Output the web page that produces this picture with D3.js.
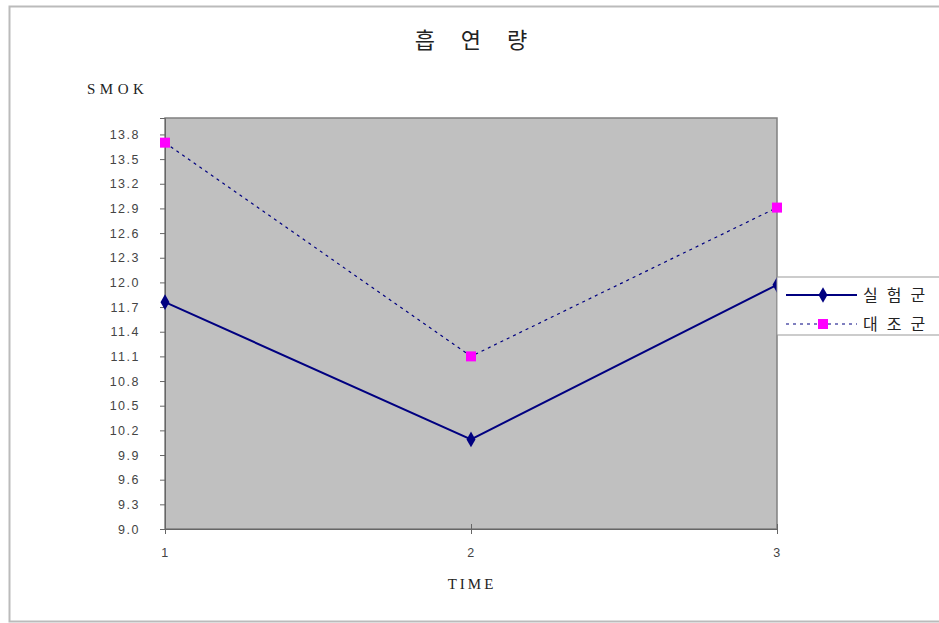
<!DOCTYPE html>
<html lang="ko">
<head>
  <meta charset="UTF-8">
  <title>흡연량</title>
  <style>
    body { margin: 0; background: #fff; }
    text { font-family: "Liberation Serif", serif; }
    .tick text { fill: #444; font-family: "Liberation Sans", Arial, sans-serif; font-size: 12.5px; letter-spacing: 1.5px; }
    .kr { font-family: "Noto Sans CJK KR", sans-serif; }
  </style>
</head>
<body>
  <script src="https://d3js.org/d3.v7.min.js"></script>
  <script>
    // 데이터
    const times = [1, 2, 3];
    const exp = [11.76, 10.09, 11.97];   // 실험군
    const ctrl = [13.70, 11.10, 12.91];  // 대조군
    const yTicks = [9.0, 9.3, 9.6, 9.9, 10.2, 10.5, 10.8, 11.1, 11.4, 11.7, 12.0, 12.3, 12.6, 12.9, 13.2, 13.5, 13.8];
    const seriesNames = ["실험군", "대조군"];

    const W = 939, H = 623;
    const pLeft = 165, pRight = 777, pTop = 118, pBottom = 529;

    const svg = d3.select("body").append("svg")
      .attr("width", W).attr("height", H);

    // 바깥 테두리
    svg.append("rect")
      .attr("x", 9.5).attr("y", 6.5).attr("width", 940).attr("height", 615)
      .attr("fill", "none").attr("stroke", "#bbb").attr("stroke-width", 2);

    const x = d3.scaleLinear().domain([1, 3]).range([pLeft, pRight]);
    const y = d3.scaleLinear().domain([9, 14]).range([pBottom, pTop]);

    // 플롯 영역
    svg.append("rect")
      .attr("x", pLeft).attr("y", pTop)
      .attr("width", pRight - pLeft).attr("height", pBottom - pTop)
      .attr("fill", "#c0c0c0").attr("stroke", "#808080").attr("stroke-width", 1.5);

    // 축
    const yAxis = svg.append("g")
      .attr("transform", `translate(${pLeft},0)`)
      .call(d3.axisLeft(y).tickValues(yTicks).tickFormat(d3.format(".1f")).tickSize(5).tickPadding(20));
    yAxis.select(".domain").attr("stroke", "#666");
    yAxis.selectAll(".tick line").attr("stroke", "#666");

    const xAxis = svg.append("g")
      .attr("transform", `translate(0,${pBottom})`)
      .call(d3.axisBottom(x).tickValues(times).tickFormat(d3.format("d")).tickSize(5).tickPadding(14));
    xAxis.select(".domain").attr("stroke", "#666");
    xAxis.selectAll(".tick line").attr("stroke", "#666").attr("y1", -5);

    // 제목 및 축 제목
    svg.append("text").attr("class", "kr")
      .attr("x", 484).attr("y", 48).attr("text-anchor", "middle")
      .attr("font-size", 22).attr("fill", "#222")
      .attr("letter-spacing", 26).text("흡연량");
    svg.append("text")
      .attr("x", 87).attr("y", 94)
      .attr("font-size", 15).attr("fill", "#222").attr("letter-spacing", 4.5)
      .text("SMOK");
    svg.append("text")
      .attr("x", 472).attr("y", 589).attr("text-anchor", "middle")
      .attr("font-size", 15).attr("fill", "#222").attr("letter-spacing", 3)
      .text("TIME");

    const line = d3.line().x((d, i) => x(times[i])).y(d => y(d));

    // 대조군 (점선)
    svg.append("path").datum(ctrl)
      .attr("d", line).attr("fill", "none")
      .attr("stroke", "#000080").attr("stroke-width", 1.2)
      .attr("stroke-dasharray", "3,4");
    // 실험군 (실선)
    svg.append("path").datum(exp)
      .attr("d", line).attr("fill", "none")
      .attr("stroke", "#000080").attr("stroke-width", 2);

    const diamond = d3.symbol().type(d3.symbolDiamond).size(70);
    svg.selectAll(".m1").data(exp).enter().append("path")
      .attr("transform", (d, i) => `translate(${x(times[i])},${y(d)})`)
      .attr("d", diamond).attr("fill", "#000080");
    svg.selectAll(".m2").data(ctrl).enter().append("rect")
      .attr("x", (d, i) => x(times[i]) - 5).attr("y", d => y(d) - 5)
      .attr("width", 10).attr("height", 10).attr("fill", "#ff00ff");

    // 범례
    const lg = svg.append("g").attr("transform", "translate(777,277)");
    lg.append("rect").attr("x", 0).attr("y", 0).attr("width", 170).attr("height", 58)
      .attr("fill", "#fff").attr("stroke", "#999");
    lg.append("line").attr("x1", 9).attr("x2", 80).attr("y1", 18).attr("y2", 18)
      .attr("stroke", "#000080").attr("stroke-width", 2);
    lg.append("path").attr("transform", "translate(46,18)").attr("d", diamond).attr("fill", "#000080");
    lg.append("line").attr("x1", 9).attr("x2", 80).attr("y1", 47).attr("y2", 47)
      .attr("stroke", "#000080").attr("stroke-width", 1.2).attr("stroke-dasharray", "3,4");
    lg.append("rect").attr("x", 41).attr("y", 42).attr("width", 10).attr("height", 10).attr("fill", "#ff00ff");
    lg.selectAll(".lt").data(seriesNames).enter().append("text")
      .attr("class", "kr")
      .attr("x", 86).attr("y", (d, i) => 24 + i * 29)
      .attr("font-size", 16).attr("fill", "#222").attr("letter-spacing", 9)
      .text(d => d);
  </script>
</body>
</html>
